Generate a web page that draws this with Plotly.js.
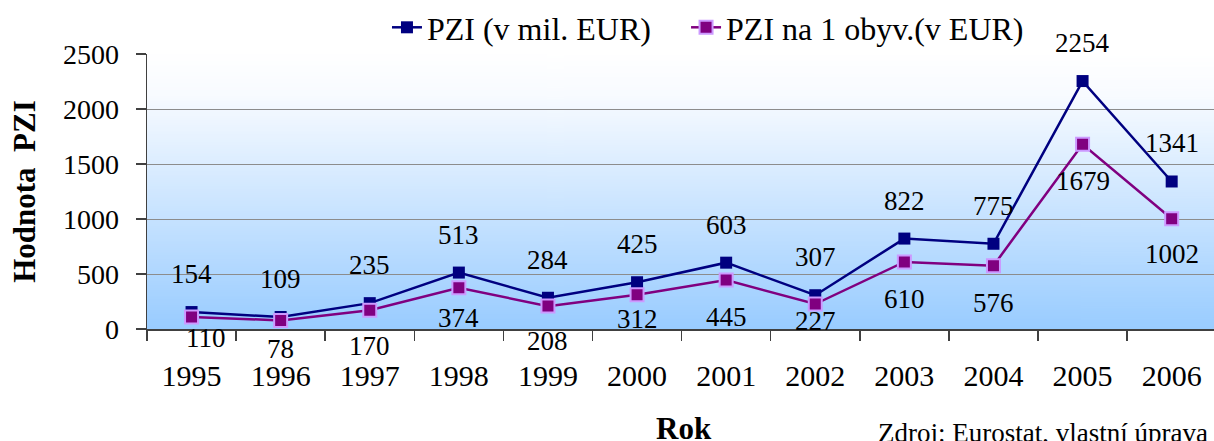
<!DOCTYPE html>
<html>
<head>
<meta charset="utf-8">
<script src="https://cdn.plot.ly/plotly-3.0.1.min.js"></script>
<style>html,body{margin:0;padding:0;background:#fff;}#chart{width:1214px;height:441px;}</style>
</head>
<body>
<div id="chart"></div>
<script>
// ---- data ----
var years = ["1995","1996","1997","1998","1999","2000","2001","2002","2003","2004","2005","2006"];
var pziMilEur = [154,109,235,513,284,425,603,307,822,775,2254,1341];
var pziPerCapita = [110,78,170,374,208,312,445,227,610,576,1679,1002];
var seriesNames = ["PZI (v mil. EUR)", "PZI na 1 obyv.(v EUR)"];
var yTicks = [0,500,1000,1500,2000,2500];

// ---- label placement (style only) ----
var shiftAbove = 38;
var shiftBelow2 = [21,29,36,30,35,24,37,17,37,37,37,35];
var xShift2 = [14,0,0,0,0,0,0,0,0,0,0,0];

var serif = "Liberation Serif";

// gradient background image
var cv = document.createElement('canvas');
cv.width = 4; cv.height = 300;
var cx = cv.getContext('2d');
var g = cx.createLinearGradient(0,0,0,300);
g.addColorStop(0,'#ffffff');
g.addColorStop(0.15,'#f8fbff');
g.addColorStop(1,'#99ccff');
cx.fillStyle = g; cx.fillRect(0,0,4,300);
var bgURL = cv.toDataURL();

var traces = [
  {x: years, y: pziMilEur, name: seriesNames[0], type: 'scatter', mode: 'lines+markers', legend: 'legend',
   line: {color: '#000080', width: 2.5},
   marker: {symbol: 'square', size: 12, color: '#000080', line: {width: 0}}},
  {x: years, y: pziPerCapita, name: seriesNames[1], type: 'scatter', mode: 'lines+markers', legend: 'legend2',
   line: {color: '#800080', width: 2.5},
   marker: {symbol: 'square', size: 13, color: '#800080', line: {width: 2, color: '#cc99ff'}}}
];

var annotations = [];
for (var i = 0; i < years.length; i++) {
  annotations.push({x: i, y: pziMilEur[i], xref: 'x', yref: 'y', text: String(pziMilEur[i]),
    showarrow: false, yshift: shiftAbove, font: {family: serif, size: 27, color: '#000000'}});
  annotations.push({x: i, y: pziPerCapita[i], xref: 'x', yref: 'y', text: String(pziPerCapita[i]),
    showarrow: false, yshift: -shiftBelow2[i], xshift: xShift2[i], font: {family: serif, size: 27, color: '#000000'}});
}
annotations.push({xref: 'paper', yref: 'paper', x: 0.9963, y: -0.318, xanchor: 'right', yanchor: 'top',
  text: 'Zdroj: Eurostat, vlastní úprava', showarrow: false, font: {family: serif, size: 27, color: '#000000'}});
annotations.push({xref: 'paper', yref: 'paper', x: 0.5033, y: -0.29, xanchor: 'center', yanchor: 'top',
  text: '<b>Rok</b>', showarrow: false, font: {family: serif, size: 31, color: '#000000'}});

var legendFont = {family: serif, size: 32, color: '#000'};
var layout = {
  width: 1214, height: 441,
  margin: {l: 147, r: 0, t: 53, b: 112},
  paper_bgcolor: '#ffffff', plot_bgcolor: 'rgba(0,0,0,0)',
  showlegend: true,
  legend: {orientation: 'h', x: 0.2249, xanchor: 'left', y: 1.098, yanchor: 'middle',
    bgcolor: 'rgba(0,0,0,0)', font: legendFont},
  legend2: {orientation: 'h', x: 0.5052, xanchor: 'left', y: 1.098, yanchor: 'middle',
    bgcolor: 'rgba(0,0,0,0)', font: legendFont},
  images: [{source: bgURL, xref: 'paper', yref: 'paper', x: 0, y: 1, sizex: 1, sizey: 1,
    sizing: 'stretch', xanchor: 'left', yanchor: 'top', layer: 'below'}],
  xaxis: {type: 'category', range: [-0.5, 11.475], tickson: 'boundaries', ticks: 'outside', ticklen: 10,
    tickcolor: '#404040', tickwidth: 1.5, showline: true, linecolor: '#404040', linewidth: 1.5,
    showgrid: false, zeroline: false, ticklabelstandoff: 19, tickfont: {family: serif, size: 30, color: '#000'},
    automargin: false},
  yaxis: {range: [0, 2500], tickvals: yTicks, ticktext: yTicks.map(String), ticks: 'outside', ticklen: 10,
    tickcolor: '#404040', tickwidth: 1.5, showline: true, linecolor: '#404040', linewidth: 1.5,
    showgrid: true, gridcolor: '#8c8c8c', gridwidth: 1, zeroline: false, ticklabelstandoff: 11,
    tickfont: {family: serif, size: 28, color: '#000'},
    title: {text: 'Hodnota  PZI', standoff: 18, font: {family: serif, size: 31, color: '#000', weight: 'bold'}},
    automargin: false},
  annotations: annotations
};

Plotly.newPlot('chart', traces, layout, {displayModeBar: false, staticPlot: true});
</script>
</body>
</html>
